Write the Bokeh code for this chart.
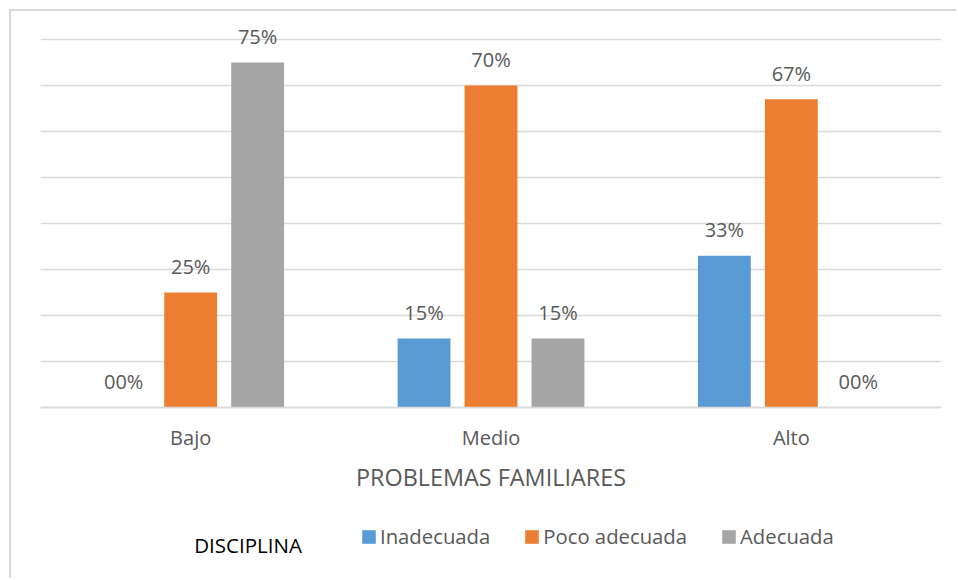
from bokeh.plotting import figure
from bokeh.models import ColumnDataSource, FactorRange, Range1d, FixedTicker, Legend, LegendItem, Label
from bokeh.transform import dodge
from bokeh.core.properties import value
from bokeh.embed import file_html
from bokeh.resources import INLINE

categories = ["Bajo", "Medio", "Alto"]
series_names = ["Inadecuada", "Poco adecuada", "Adecuada"]
inadecuada = [0, 15, 33]
poco_adecuada = [25, 70, 67]
adecuada = [75, 15, 0]
colors = ["#5B9BD5", "#ED7D31", "#A5A5A5"]
y_ticks = [0, 10, 20, 30, 40, 50, 60, 70, 80]

FONT = "Open Sans"
TXT = "#595959"

src = ColumnDataSource(dict(
    cat=categories,
    s0=inadecuada, s1=poco_adecuada, s2=adecuada,
    l0=[f"{v:02d}%" for v in inadecuada],
    l1=[f"{v:02d}%" for v in poco_adecuada],
    l2=[f"{v:02d}%" for v in adecuada],
))

# frame spans the whole chart box; 0..80 occupies 368 px, the category axis is pinned at 0
y_top = 80 * 396 / 368
y_bottom = -80 * 173 / 368

p = figure(width=947, height=569, output_backend="svg", toolbar_location=None,
           x_range=FactorRange(*categories, range_padding=0),
           y_range=Range1d(y_bottom, y_top),
           min_border_left=29, min_border_right=17, min_border_top=0, min_border_bottom=0)
p.styles = {"border-left": "2px solid #d9d9d9", "border-top": "2px solid #d9d9d9",
            "margin-left": "9px", "margin-top": "9px"}
p.outline_line_color = None
p.background_fill_color = "white"
p.border_fill_color = "white"

offsets = [-0.223, 0.0, 0.223]
renderers = []
for i, (off, col) in enumerate(zip(offsets, colors)):
    r = p.vbar(x=dodge("cat", off, range=p.x_range), top=f"s{i}", width=0.176,
               source=src, fill_color=col, line_color=None)
    renderers.append(r)
    p.text(x=dodge("cat", off, range=p.x_range), y=f"s{i}", text=f"l{i}", source=src,
           text_align="center", text_baseline="alphabetic", y_offset=-26,
           text_font=value(FONT), text_font_size="20px", text_color=TXT)

p.yaxis.visible = False
p.yaxis.ticker = FixedTicker(ticks=y_ticks)
p.ygrid.ticker = FixedTicker(ticks=y_ticks)
p.ygrid.grid_line_color = "#d9d9d9"
p.ygrid.grid_line_width = 1.3
p.xgrid.visible = False

ax = p.xaxis[0]
ax.fixed_location = 0
ax.axis_line_color = "#d9d9d9"
ax.axis_line_width = 1.3
ax.major_tick_line_color = None
ax.minor_tick_line_color = None
ax.major_tick_out = 0
ax.major_tick_in = 0
ax.major_label_standoff = 16
ax.major_label_text_font = FONT
ax.major_label_text_font_size = "20px"
ax.major_label_text_color = TXT
ax.axis_label = "PROBLEMAS FAMILIARES"
ax.axis_label_standoff = 7
ax.axis_label_text_font = FONT
ax.axis_label_text_font_size = "23.4px"
ax.axis_label_text_font_style = "normal"
ax.axis_label_text_color = TXT

legend = Legend(items=[LegendItem(label=n, renderers=[r]) for n, r in zip(series_names, renderers)],
                orientation="horizontal", location=(320, 30),
                padding=0, margin=0, spacing=33, label_standoff=3,
                glyph_width=17, glyph_height=17,
                label_text_font=FONT, label_text_font_size="20.3px", label_text_color=TXT,
                border_line_color=None, background_fill_alpha=0)
p.add_layout(legend, "center")

p.add_layout(Label(x=0.691, y=-29.9, text="DISCIPLINA", text_align="center", text_baseline="middle",
                   text_font=FONT, text_font_size="20.5px", text_color="#000000"))

open("out.html", "w").write(file_html(p, INLINE))
